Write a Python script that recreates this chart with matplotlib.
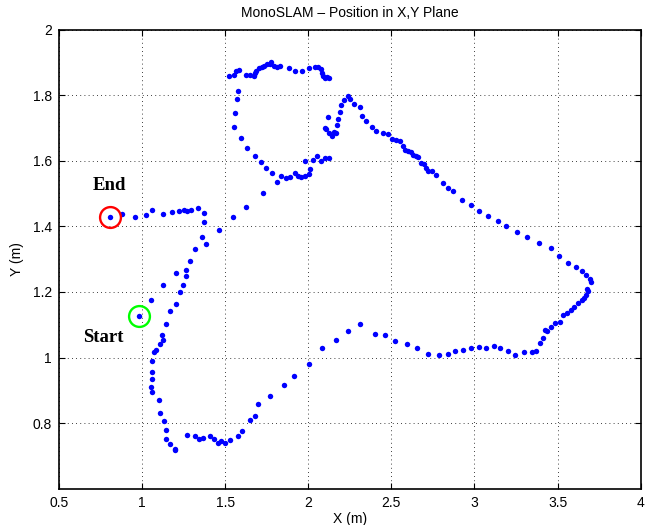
import matplotlib
matplotlib.use("Agg")
import matplotlib.pyplot as plt
from matplotlib.ticker import FuncFormatter

# Estimated camera positions (m)
path_x = [
    0.982, 1.118, 1.126, 1.110, 1.086, 1.070, 1.062, 1.062, 1.062, 1.054,
    1.062, 1.102, 1.110, 1.134, 1.142, 1.142, 1.166, 1.198, 1.200,
    1.270, 1.320, 1.344, 1.368, 1.408, 1.432, 1.456, 1.472, 1.496, 1.528,
    1.576, 1.600, 1.648, 1.681, 1.696, 1.768, 1.851, 1.915, 2.002, 2.083,
    2.165, 2.237, 2.309, 2.399, 2.463, 2.519, 2.591, 2.655, 2.719, 2.785,
    2.841, 2.881, 2.929, 2.977, 3.027, 3.067, 3.115, 3.155, 3.203, 3.243,
    3.299, 3.347, 3.371, 3.395, 3.413, 3.427, 3.437, 3.461, 3.485, 3.517,
    3.533, 3.557, 3.581, 3.597, 3.621, 3.645, 3.661, 3.669, 3.685, 3.677,
    3.701, 3.693,
    3.669, 3.645, 3.613, 3.565, 3.509, 3.461, 3.389, 3.317, 3.253, 3.187,
    3.139, 3.083, 3.027, 2.979, 2.923, 2.873, 2.841, 2.809, 2.767, 2.743,
    2.719, 2.711, 2.695, 2.679, 2.663, 2.647, 2.631, 2.615, 2.599, 2.583,
    2.567, 2.551, 2.527, 2.503, 2.479, 2.447, 2.407, 2.381, 2.349, 2.325,
    2.309, 2.277, 2.253, 2.237,
    2.213, 2.197, 2.189, 2.181, 2.173, 2.165, 2.157, 2.141, 2.125, 2.109,
    2.101, 2.117,
    2.123, 2.115, 2.099, 2.091, 2.083, 2.075, 2.059, 2.043, 2.002, 1.963,
    1.923, 1.882, 1.832, 1.809, 1.792, 1.777, 1.768, 1.753, 1.736, 1.720,
    1.705, 1.688, 1.681, 1.672, 1.648, 1.624, 1.585, 1.568, 1.552, 1.520,
    1.579, 1.570, 1.562, 1.555, 1.594, 1.634, 1.682, 1.714, 1.747, 1.779,
    1.834, 1.866, 1.891, 1.923, 1.939, 1.955, 1.978, 2.002, 2.011, 1.978,
    2.026, 2.051, 2.075, 2.099, 2.123,
    1.810, 1.730, 1.627, 1.546, 1.465, 1.386, 1.360, 1.320, 1.288, 1.262,
    1.262, 1.246, 1.230, 1.206, 1.166, 1.142,
    1.054, 1.126, 1.206,
    1.370, 1.370, 1.338, 1.294, 1.270, 1.254, 1.222, 1.182, 1.126, 1.062,
    1.022, 0.958, 0.878, 0.806,
]
path_y = [
    1.126, 1.070, 1.053, 1.041, 1.024, 1.016, 0.988, 0.955, 0.935, 0.911,
    0.895, 0.870, 0.830, 0.805, 0.780, 0.752, 0.736, 0.722, 0.718,
    0.764, 0.760, 0.752, 0.756, 0.760, 0.752, 0.740, 0.744, 0.740, 0.748,
    0.760, 0.776, 0.809, 0.821, 0.857, 0.882, 0.915, 0.943, 0.980, 1.028,
    1.052, 1.081, 1.101, 1.073, 1.069, 1.049, 1.040, 1.028, 1.012, 1.008,
    1.012, 1.020, 1.024, 1.028, 1.032, 1.028, 1.036, 1.028, 1.020, 1.008,
    1.016, 1.016, 1.020, 1.044, 1.061, 1.085, 1.081, 1.093, 1.105, 1.109,
    1.129, 1.137, 1.146, 1.154, 1.166, 1.174, 1.182, 1.190, 1.202, 1.210,
    1.231, 1.239,
    1.251, 1.263, 1.275, 1.289, 1.310, 1.334, 1.350, 1.366, 1.382, 1.402,
    1.415, 1.431, 1.447, 1.464, 1.480, 1.509, 1.517, 1.533, 1.557, 1.569,
    1.569, 1.578, 1.590, 1.594, 1.610, 1.614, 1.618, 1.626, 1.630, 1.634,
    1.646, 1.659, 1.663, 1.667, 1.680, 1.684, 1.692, 1.704, 1.720, 1.736,
    1.765, 1.773, 1.789, 1.797,
    1.785, 1.769, 1.748, 1.728, 1.708, 1.684, 1.688, 1.676, 1.684, 1.696,
    1.700, 1.732,
    1.851, 1.855, 1.851, 1.859, 1.867, 1.879, 1.887, 1.887, 1.883, 1.875,
    1.875, 1.883, 1.890, 1.886, 1.890, 1.902, 1.894, 1.894, 1.890, 1.886,
    1.882, 1.874, 1.866, 1.858, 1.862, 1.862, 1.876, 1.874, 1.862, 1.858,
    1.814, 1.789, 1.745, 1.704, 1.668, 1.639, 1.615, 1.595, 1.578, 1.562,
    1.554, 1.546, 1.550, 1.562, 1.554, 1.550, 1.554, 1.558, 1.575, 1.599,
    1.603, 1.615, 1.599, 1.607, 1.607,
    1.534, 1.501, 1.459, 1.427, 1.390, 1.346, 1.366, 1.330, 1.295, 1.267,
    1.249, 1.220, 1.200, 1.164, 1.143, 1.102,
    1.176, 1.220, 1.257,
    1.412, 1.440, 1.455, 1.451, 1.447, 1.451, 1.447, 1.443, 1.439, 1.451,
    1.435, 1.428, 1.439, 1.428,
]

start_xy = (0.982, 1.126)
end_xy = (0.806, 1.428)
start_label_xy = (0.766, 1.046)
end_label_xy = (0.806, 1.511)

x_ticks = [0.5, 1, 1.5, 2, 2.5, 3, 3.5, 4]
y_ticks = [0.8, 1, 1.2, 1.4, 1.6, 1.8, 2]

plt.rcParams['font.family'] = ['Liberation Sans', 'DejaVu Sans']
plt.rcParams['font.size'] = 10

fig = plt.figure(figsize=(6.49, 5.25), dpi=100)
ax = fig.add_axes([0.0909, 0.0691, 0.8963, 0.8747])

ax.plot(path_x, path_y, linestyle='none', marker='o', markersize=3.9,
        markerfacecolor='#0000ff', markeredgewidth=0, zorder=3)

# Start / End highlights
ax.plot(*end_xy, marker='o', markersize=15, markerfacecolor='none',
        markeredgecolor='#ff0000', markeredgewidth=1.7, zorder=4)
ax.plot(*start_xy, marker='o', markersize=15, markerfacecolor='none',
        markeredgecolor='#00ff00', markeredgewidth=1.7, zorder=4)
ax.text(*end_label_xy, "End", family=['Liberation Serif', 'DejaVu Serif'],
        fontweight='bold', fontsize=13.5, ha='center', va='baseline')
ax.text(*start_label_xy, "Start", family=['Liberation Serif', 'DejaVu Serif'],
        fontweight='bold', fontsize=13.5, ha='center', va='baseline')

ax.set_xlim(0.5, 4)
ax.set_ylim(0.6, 2)
ax.set_xticks(x_ticks)
ax.set_yticks(y_ticks)
fmt = FuncFormatter(lambda v, pos: "%g" % v)
ax.xaxis.set_major_formatter(fmt)
ax.yaxis.set_major_formatter(fmt)
ax.tick_params(direction='in', length=4, width=0.8, top=True, right=True,
               pad=5, labelsize=10)
for s in ax.spines.values():
    s.set_linewidth(1.2)
ax.grid(True, color='k', linestyle=(0, (1, 4)), linewidth=0.6)

ax.set_title("MonoSLAM \u2013 Position in X,Y Plane", fontsize=10, pad=9)
ax.set_xlabel("X (m)", fontsize=10, labelpad=2)
ax.set_ylabel("Y (m)", fontsize=10, labelpad=6)

fig.savefig("out.png", dpi=100)
